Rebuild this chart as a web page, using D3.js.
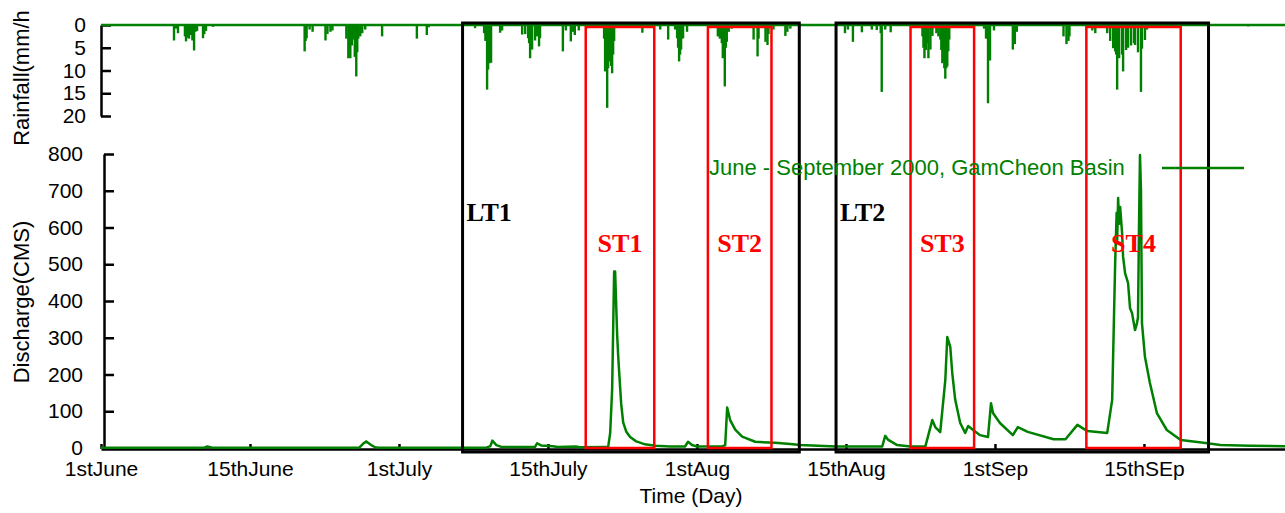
<!DOCTYPE html>
<html>
<head>
<meta charset="utf-8">
<script src="https://cdn.jsdelivr.net/npm/d3@7"></script>
<style>
  body { margin: 0; background: #fff; }
</style>
</head>
<body>
<svg id="mainSvg" width="1285" height="513"></svg>
<script>
// rainfall impulses: [day since 1 June, mm/h]
var rainfall = [
  [7.35,3.4],[7.55,0.8],[7.75,1.8],[8.45,2.5],[8.56,3.6],[8.7,2.8],[8.86,3.0],[9.05,2.2],[9.2,3.4],[9.37,5.6],[9.5,1.5],[9.67,1.3],
  [10.27,2.9],[10.4,2.0],[10.57,1.3],[11.28,0.4],
  [20.5,5.8],[20.6,3.5],[20.7,2.9],[21.0,1.0],[21.3,1.5],[22.6,3.4],[22.8,2.0],[23.1,1.5],[23.3,1.2],
  [24.7,3.0],[24.9,7.3],[25.0,5.5],[25.1,7.3],[25.25,4.5],[25.4,3.2],[25.55,7.0],[25.7,11.3],[25.8,6.0],[25.9,3.0],[26.1,2.5],
  [26.3,1.8],[26.6,1.0],[28.3,2.5],[31.8,3.0],[32.8,2.2],[33.0,0.5],
  [37.66,0.7],[38.57,1.8],[38.7,3.5],[38.87,14.2],[38.97,9.8],[39.1,8.4],[39.27,8.3],[40.18,1.7],[40.38,1.2],
  [42.4,2.1],[42.7,2.0],[43.0,2.9],[43.1,4.0],[43.2,7.3],[43.3,4.5],[43.4,5.4],[43.7,3.4],[43.9,2.5],[44.1,4.7],[44.2,2.9],
  [46.5,5.8],[46.8,1.2],[47.3,3.6],[47.5,1.5],[47.7,2.2],[48.1,1.2],
  [50.65,3.0],[50.75,10.2],[50.86,8.0],[50.96,18.2],[51.06,9.5],[51.16,8.0],[51.26,7.3],[51.36,9.0],[51.46,10.6],[51.56,6.5],[51.66,3.5],
  [54.5,1.7],[56.3,1.0],[57.1,3.2],[57.8,1.0],[58.0,2.9],[58.1,5.0],[58.2,8.0],[58.3,6.5],[58.4,5.4],[58.5,3.0],[58.6,2.9],[59.0,1.5],
  [62.1,2.5],[62.3,3.0],[62.5,4.0],[62.6,7.3],[62.7,6.0],[62.8,13.5],[62.9,5.0],[63.0,3.7],[63.2,1.5],[63.5,0.8],
  [65.7,3.2],[66.1,6.9],[66.2,3.0],[66.9,3.7],[67.1,4.4],[67.2,2.0],[67.7,1.0],[68.9,2.4],[69.1,1.5],[69.4,0.8],[70.3,0.5],
  [74.9,1.8],[75.2,1.0],[75.7,3.7],[76.6,1.6],[77.6,1.0],[78.1,1.1],[78.5,1.8],[78.6,14.7],[78.95,1.0],[79.5,1.6],
  [82.7,2.5],[82.8,5.0],[82.9,7.3],[83.05,5.5],[83.2,4.0],[83.3,7.3],[83.5,5.4],[83.7,2.4],[84.1,1.8],[84.3,2.5],[84.5,3.2],
  [84.6,5.5],[84.7,8.4],[84.8,8.0],[84.9,9.5],[85.0,11.8],[85.1,9.5],[85.2,9.1],[85.3,5.8],[85.4,3.2],
  [88.9,0.8],[89.1,3.0],[89.3,17.2],[89.5,7.8],[89.9,1.2],[91.8,5.4],[92.0,4.2],[92.2,1.5],
  [96.9,2.5],[97.2,4.2],[97.4,3.5],[97.5,2.5],
  [99.8,1.2],[100.1,1.8],[101.3,1.8],[101.6,3.5],[101.9,5.1],[102.1,5.8],[102.2,6.5],
  [102.3,14.2],[102.5,7.3],[102.8,6.5],[102.9,10.2],[103.2,5.5],[103.4,5.0],[103.7,4.5],
  [104.0,4.0],[104.1,4.4],[104.4,6.0],[104.7,14.7],[104.8,5.2],[105.1,3.3],
  [105.3,1.0],[115.5,0.3]
];

// discharge: [day since 1 June, CMS]
var discharge = [
  [0,1],[10.4,1],[10.7,4],[11.2,1],[26.0,1],[26.4,12],[26.7,18],[27.2,8],[27.6,2],[28.0,1],
  [38.8,1],[39.2,5],[39.4,20],[39.8,8],[40.3,3],[43.7,3],[43.9,13],[44.3,7],[45.5,5],[46.0,3],[47.8,4],[48.2,2],
  [50.8,3],[51.06,3],[51.26,40],[51.46,160],[51.66,480],[51.76,480],[51.96,310],[52.07,250],[52.17,205],[52.37,120],
  [52.57,70],[52.87,45],[53.27,30],[53.88,18],[54.78,10],[55.79,6],[57.3,4],
  [58.8,4],[59.1,17],[59.5,8],[60.0,4],[62.6,5],[62.84,8],[63.04,110],[63.34,76],[63.85,50],[64.55,31],[65.86,17],
  [67.87,14],[69.39,11],[70.39,8],[72.2,6],[74.0,4],
  [78.65,4],[78.95,33],[79.26,22],[80.16,8],[81.47,4],[83.0,5],[83.69,76],[83.99,57],[84.49,43],[85.0,185],[85.2,302],
  [85.5,275],[85.7,204],[86.0,131],[86.5,68],[87.0,41],[87.3,60],[87.8,49],[88.5,35],[89.3,30],[89.6,122],[89.8,95],
  [90.5,68],[91.8,35],[92.3,57],[93.3,44],[95.9,24],[97.1,24],[98.3,63],[99.3,46],[101.3,41],[101.8,131],[102.1,503],
  [102.25,640],[102.3,560],[102.4,680],[102.5,610],[102.6,656],[102.8,585],[102.9,520],[103.1,476],[103.4,449],[103.6,380],
  [103.8,367],[104.1,321],[104.3,340],[104.4,356],[104.5,600],[104.6,797],[104.7,700],[104.8,340],[105.1,248],[105.6,177],
  [106.3,95],[107.3,49],[108.7,22],[111.0,14],[112.7,8],[115.7,6],[119.3,5]
];

// analysis windows [name, start day, end day]
var longTerm = [["LT1",36.4,70.3],["LT2",74.0,111.5]];
var shortTerm = [["ST1",48.8,55.7],["ST2",61.1,67.5],["ST3",81.5,87.9],["ST4",99.2,108.7]];

var tickDays = [0,15,30,45,60,75,90,105];
var tickLabels = ["1stJune","15thJune","1stJuly","15thJuly","1stAug","15thAug","1stSep","15thSEp"];
var rainTicks = [0,5,10,15,20];
var qTicks = [0,100,200,300,400,500,600,700,800];

var green = "#008000";
var sans = "'Liberation Sans', Arial, sans-serif";
var serif = "'Liberation Serif', 'Times New Roman', serif";
var svg = d3.select("#mainSvg");

var x = d3.scaleLinear().domain([0,119.3]).range([101,1286]);
var yRain = d3.scaleLinear().domain([0,20]).range([25,116]);
var yQ = d3.scaleLinear().domain([0,800]).range([448,154]);

// rainfall axis
var rainAxis = svg.append("g")
    .attr("transform","translate(" + x(0) + ",0)")
    .call(d3.axisLeft(yRain).tickValues(rainTicks).tickSize(-10).tickSizeOuter(0).tickPadding(15));

// discharge axis
var qAxis = svg.append("g")
    .attr("transform","translate(" + (x(0) + 3) + ",0)")
    .call(d3.axisLeft(yQ).tickValues(qTicks).tickSize(-10).tickSizeOuter(0).tickPadding(21));

// time axis
var xAxis = svg.append("g")
    .attr("transform","translate(0," + (yQ(0) + 1) + ")")
    .call(d3.axisBottom(x).tickValues(tickDays).tickSize(-5).tickSizeOuter(0).tickPadding(12)
        .tickFormat(function(d,i){ return tickLabels[i]; }));

[rainAxis, qAxis, xAxis].forEach(function(g){
    g.selectAll("path, line").attr("stroke","black").attr("stroke-width",2.5);
    g.selectAll("text").attr("fill","black").style("font-size","21px").style("font-family",sans);
});

// rainfall baseline and impulses
svg.append("line")
    .attr("x1",x(0)).attr("x2",x(119.3))
    .attr("y1",yRain(0)).attr("y2",yRain(0))
    .attr("stroke",green).attr("stroke-width",2.5);

svg.selectAll(".rainBar")
    .data(rainfall)
    .enter()
    .append("rect")
    .attr("class","rainBar")
    .attr("x",function(d){ return x(d[0]) - 1.2; })
    .attr("y",yRain(0))
    .attr("width",2.4)
    .attr("height",function(d){ return yRain(d[1]) - yRain(0); })
    .attr("fill",green);

// discharge line
var qLine = d3.line()
    .x(function(d){ return x(d[0]); })
    .y(function(d){ return yQ(d[1]); });

svg.append("path")
    .datum(discharge)
    .attr("d",qLine)
    .attr("fill","none")
    .attr("stroke",green)
    .attr("stroke-width",2.5)
    .attr("stroke-linejoin","round");

// long term windows
svg.selectAll(".ltBox")
    .data(longTerm)
    .enter()
    .append("rect")
    .attr("class","ltBox")
    .attr("x",function(d){ return x(d[1]); })
    .attr("y",yRain(0) - 2)
    .attr("width",function(d){ return x(d[2]) - x(d[1]); })
    .attr("height",yQ(0) + 4 - (yRain(0) - 2))
    .attr("fill","none")
    .attr("stroke","black")
    .attr("stroke-width",3);

svg.selectAll(".ltLabel")
    .data(longTerm)
    .enter()
    .append("text")
    .attr("x",function(d){ return x(d[1]) + 4; })
    .attr("y",221)
    .style("font-family",serif)
    .style("font-weight","bold")
    .style("font-size","26px")
    .attr("fill","black")
    .text(function(d){ return d[0]; });

// short term windows
svg.selectAll(".stBox")
    .data(shortTerm)
    .enter()
    .append("rect")
    .attr("class","stBox")
    .attr("x",function(d){ return x(d[1]); })
    .attr("y",yRain(0) + 2)
    .attr("width",function(d){ return x(d[2]) - x(d[1]); })
    .attr("height",yQ(0) - (yRain(0) + 2))
    .attr("fill","none")
    .attr("stroke","#ff0000")
    .attr("stroke-width",2.5);

svg.selectAll(".stLabel")
    .data(shortTerm)
    .enter()
    .append("text")
    .attr("x",function(d){ return (x(d[1]) + x(d[2])) / 2; })
    .attr("y",252)
    .attr("text-anchor","middle")
    .style("font-family",serif)
    .style("font-weight","bold")
    .style("font-size","26px")
    .attr("fill","#ff0000")
    .text(function(d){ return d[0]; });

// legend
svg.append("text")
    .attr("x",709)
    .attr("y",175)
    .style("font-family",sans)
    .style("font-size","22px")
    .attr("fill",green)
    .text("June - September 2000, GamCheon Basin");

svg.append("line")
    .attr("x1",1162).attr("x2",1244)
    .attr("y1",168).attr("y2",168)
    .attr("stroke",green).attr("stroke-width",2.5);

// axis titles
svg.append("text")
    .attr("transform","translate(29,78) rotate(-90)")
    .attr("text-anchor","middle")
    .style("font-family",sans)
    .style("font-size","22px")
    .attr("fill","black")
    .text("Rainfall(mm/h");

svg.append("text")
    .attr("transform","translate(29,302) rotate(-90)")
    .attr("text-anchor","middle")
    .style("font-family",sans)
    .style("font-size","22px")
    .attr("fill","black")
    .text("Discharge(CMS)");

svg.append("text")
    .attr("x",691)
    .attr("y",503)
    .attr("text-anchor","middle")
    .style("font-family",sans)
    .style("font-size","21px")
    .attr("fill","black")
    .text("Time (Day)");
</script>
</body>
</html>
